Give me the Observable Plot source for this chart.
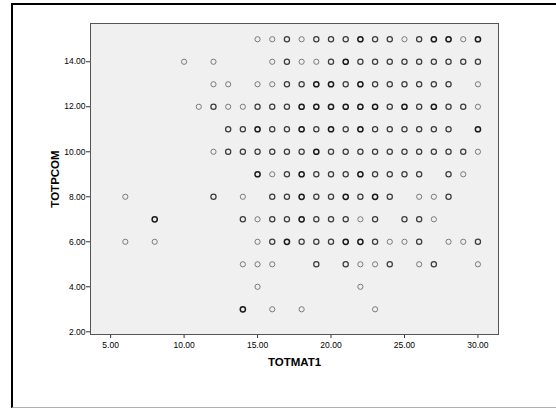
<!DOCTYPE html>
<html>
<head>
<meta charset="utf-8">
<script src="https://cdn.jsdelivr.net/npm/d3@7"></script>
<script src="https://cdn.jsdelivr.net/npm/@observablehq/plot@0.6"></script>
<style>
  html, body { margin: 0; padding: 0; background: #fff; }
  #wrap { position: relative; width: 556px; height: 411px; overflow: hidden; }
  #border { position: absolute; left: 11px; top: 3px; width: 600px; height: 405px;
            border-left: 2px solid #000; border-top: 2px solid #000; border-bottom: 1px solid #b0b0b0; box-sizing: border-box; }
  #chart { position: absolute; left: 0; top: 0; }
</style>
</head>
<body>
<div id="wrap"><div id="border"></div><div id="chart"></div></div>
<script>
// TOTPCOM level of each row of points
const totpcomLevels = [15, 14, 13, 12, 11, 10, 9, 8, 7, 6, 5, 4, 3];
// TOTMAT1 values present in each row
const totmat1ByRow = [
  [15,16,17,18,19,20,21,22,23,24,25,26,27,28,29,30],
  [10,12,16,17,18,19,20,21,22,23,24,25,26,27,28,29,30],
  [12,13,15,16,17,18,19,20,21,22,23,24,25,26,27,28,30],
  [11,12,13,14,15,16,17,18,19,20,21,22,23,24,25,26,27,28,29,30],
  [13,14,15,16,17,18,19,20,21,22,23,24,25,26,27,28,30],
  [12,13,14,15,16,17,18,19,20,21,22,23,24,25,26,27,28,29,30],
  [15,16,17,18,19,20,21,22,23,24,25,26,28,29],
  [6,12,14,16,17,18,19,20,21,22,23,24,26,27,28],
  [8,14,15,16,17,18,19,20,21,22,23,25,26,27],
  [6,8,15,16,17,18,19,20,21,22,23,24,25,26,28,29,30],
  [14,15,16,19,21,22,23,24,26,27,30],
  [15,22],
  [14,16,18,23]
];
// estimated overplotting (1 = single case, higher = several coinciding cases)
const overlapByRow = [
  [1,1,2,1,2,2,2,3,2,2,1,2,3,3,1,3],
  [1,1,1,2,1,1,2,3,2,2,2,2,2,2,2,2,2],
  [1,1,1,1,2,2,3,3,2,3,2,2,2,2,2,2,1],
  [1,2,1,1,2,2,2,3,3,3,3,3,3,2,3,2,3,2,2,1],
  [2,2,3,2,2,3,2,3,2,3,2,2,2,2,2,2,3],
  [1,2,2,2,2,2,2,3,2,2,2,2,2,2,2,2,2,2,1],
  [3,1,2,3,2,2,2,3,2,2,2,2,2,1],
  [1,2,1,2,2,3,2,2,3,2,3,2,1,1,2],
  [3,2,1,2,2,3,2,2,2,1,2,2,2,1],
  [1,1,1,2,3,2,2,2,3,3,2,1,1,2,1,1,2],
  [1,1,1,2,2,1,1,2,1,2,1],
  [1,1],
  [3,1,1,1]
];
// axis tick values
const xTicks = [5, 10, 15, 20, 25, 30];
const yTicks = [2, 4, 6, 8, 10, 12, 14];

const points = [];
totpcomLevels.forEach((y, i) => {
  totmat1ByRow[i].forEach((x, j) => points.push({TOTMAT1: x, TOTPCOM: y, n: overlapByRow[i][j]}));
});

const fmt = d3.format(".2f");
const chart = Plot.plot({
  width: 556,
  height: 411,
  marginLeft: 90,
  marginRight: 58,
  marginTop: 23,
  marginBottom: 77,
  style: {fontFamily: "'Liberation Sans', Arial, sans-serif", background: "transparent", color: "#000"},
  x: {domain: [3.63, 31.4]},
  y: {domain: [1.88, 15.7]},
  marks: [
    Plot.frame({fill: "#f0f0f0", stroke: null}),
    Plot.axisX({ticks: xTicks, tickFormat: fmt, tickSize: 4, tickPadding: 3, fontSize: 8.5, label: null, stroke: "#333"}),
    Plot.axisY({ticks: yTicks, tickFormat: fmt, tickSize: 4, tickPadding: 1, fontSize: 8.5, label: null, stroke: "#333"}),
    Plot.dot(points, {
      x: "TOTMAT1", y: "TOTPCOM", r: 2.6,
      stroke: d => d.n >= 3 ? "#1a1a1a" : d.n === 2 ? "#3c3c3c" : "#7a7a7a",
      strokeWidth: d => d.n >= 3 ? 1.5 : d.n === 2 ? 1.25 : 1,
      fill: "none"
    }),
    Plot.frame({stroke: "#555", strokeWidth: 1}),
    Plot.text(["TOTPCOM"], {frameAnchor: "left", dx: -35, rotate: -90, textAnchor: "middle", lineAnchor: "middle", fontWeight: "bold", fontSize: 11.5, fill: "#000"}),
    Plot.text(["TOTMAT1"], {frameAnchor: "bottom", dy: 28, textAnchor: "middle", lineAnchor: "middle", fontWeight: "bold", fontSize: 11.5, fill: "#000"})
  ]
});
document.getElementById("chart").appendChild(chart);
</script>
</body>
</html>
